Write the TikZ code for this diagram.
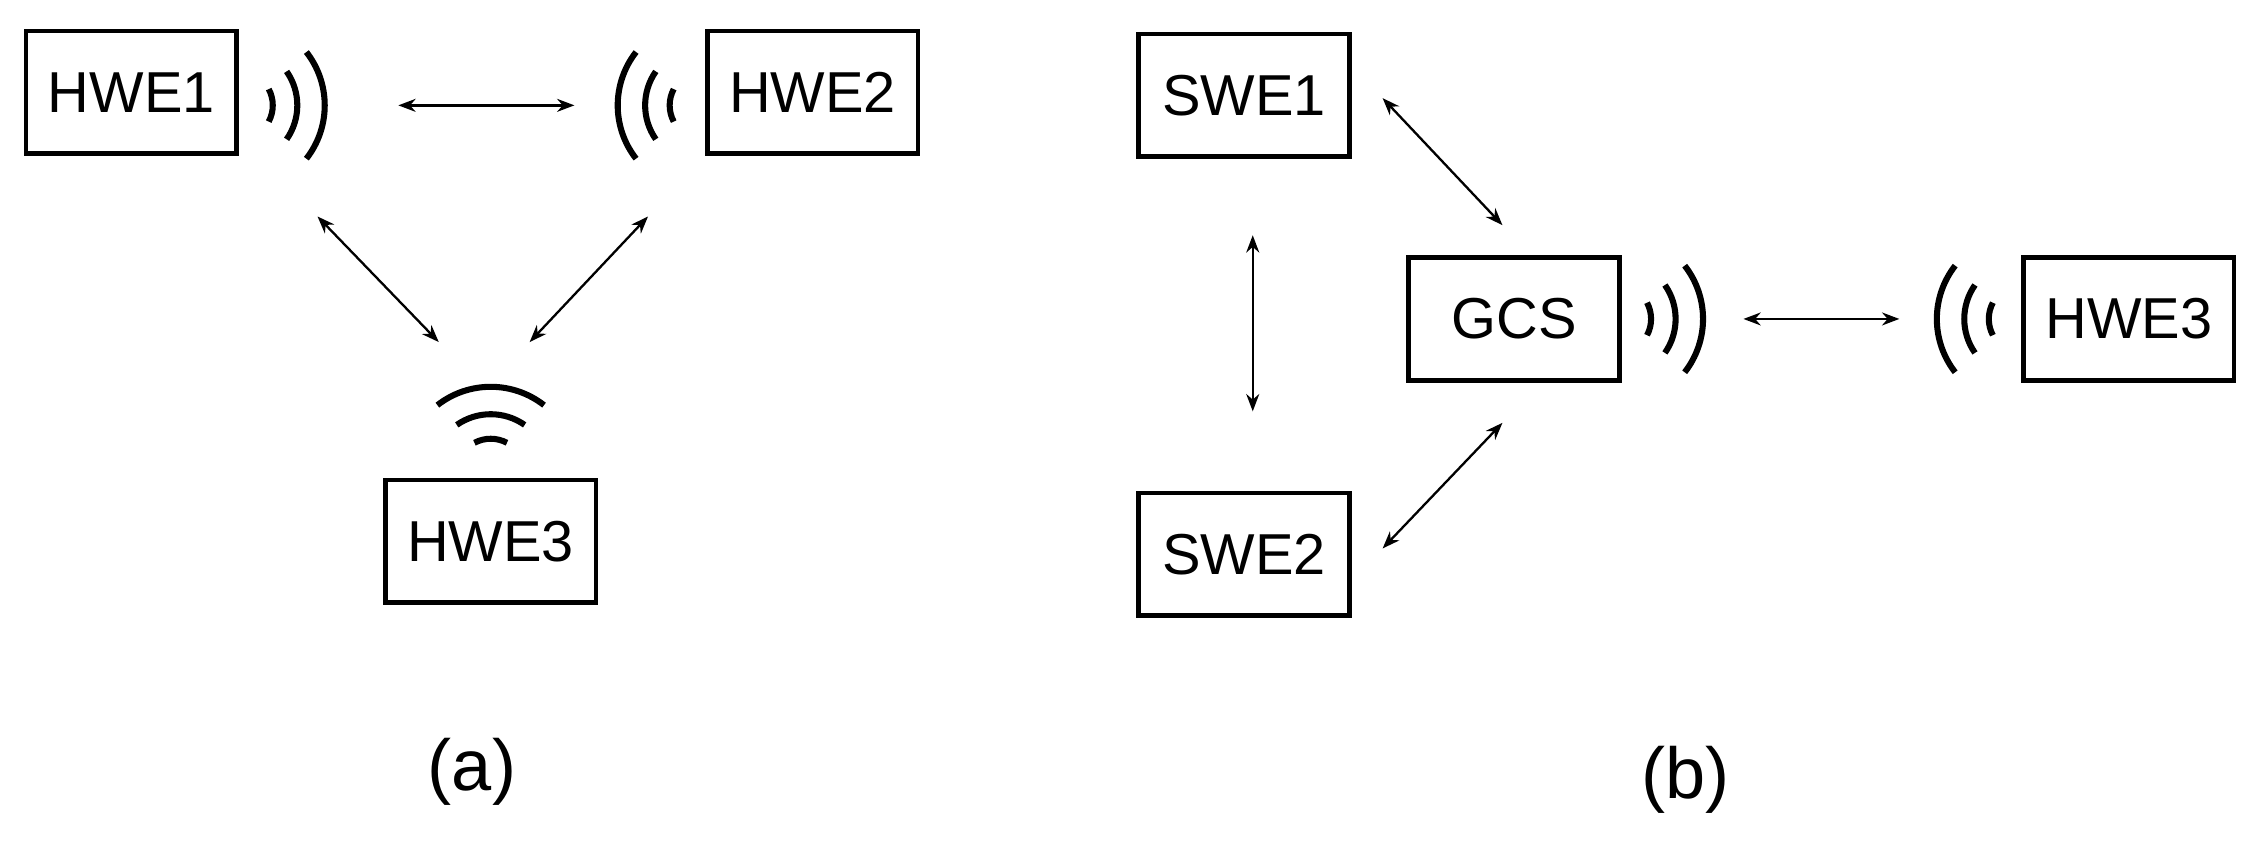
\documentclass[tikz,border=0pt]{standalone}
\usepackage{fontspec}
\setmainfont{Liberation Sans}
\usetikzlibrary{arrows.meta}
\begin{document}
\begin{tikzpicture}[x=1pt,y=-1pt,
  box/.style={draw,line width=3.2pt,minimum width=146pt,minimum height=85pt,inner sep=0pt,font=\fontsize{40}{48}\selectfont},
  link/.style={line width=1.6pt,{Stealth[length=12pt,width=9pt]}-{Stealth[length=12pt,width=9pt]}},
  captext/.style={font=\fontsize{50}{60}\selectfont},
  wave/.style={line width=4.2pt},
  pics/waves/.style={code={
    \draw[wave] (28:24) arc[start angle=28,end angle=-28,radius=24];
    \draw[wave] (35:41) arc[start angle=35,end angle=-35,radius=41];
    \draw[wave] (38:60) arc[start angle=38,end angle=-38,radius=60];
  }}]
\useasboundingbox (0,0) rectangle (1568,583);
% (a)
\node[box] (h1) at (91,64) {HWE1};
\node[box] (h2) at (563,64) {HWE2};
\node[box] (h3) at (340,375) {HWE3};
\pic at (165,73) {waves};
\pic[rotate=180] at (488,73) {waves};
\pic[rotate=90] at (340,328) {waves};
\coordinate (a1) at (276,73); \coordinate (a2) at (398,73);
\coordinate (b1) at (220,150); \coordinate (b2) at (304,237);
\coordinate (c1) at (449,150); \coordinate (c2) at (367,237);
\draw[link] (a1) -- (a2);
\draw[link] (b1) -- (b2);
\draw[link] (c1) -- (c2);
\node[captext] (la) at (327,535) {(a)};
% (b)
\node[box] (s1) at (862,66) {SWE1};
\node[box] (s2) at (862,384) {SWE2};
\node[box] (g) at (1049,221) {GCS};
\node[box] (h4) at (1475,221) {HWE3};
\pic at (1120,221) {waves};
\pic[rotate=180] at (1402,221) {waves};
\coordinate (d1) at (868,163); \coordinate (d2) at (868,285);
\coordinate (e1) at (958,68); \coordinate (e2) at (1041,156);
\coordinate (f1) at (958,380); \coordinate (f2) at (1041,293);
\coordinate (k1) at (1208,221); \coordinate (k2) at (1316,221);
\draw[link] (d1) -- (d2);
\draw[link] (e1) -- (e2);
\draw[link] (f1) -- (f2);
\draw[link] (k1) -- (k2);
\node[captext] (lb) at (1168,540) {(b)};
\end{tikzpicture}
\end{document}
